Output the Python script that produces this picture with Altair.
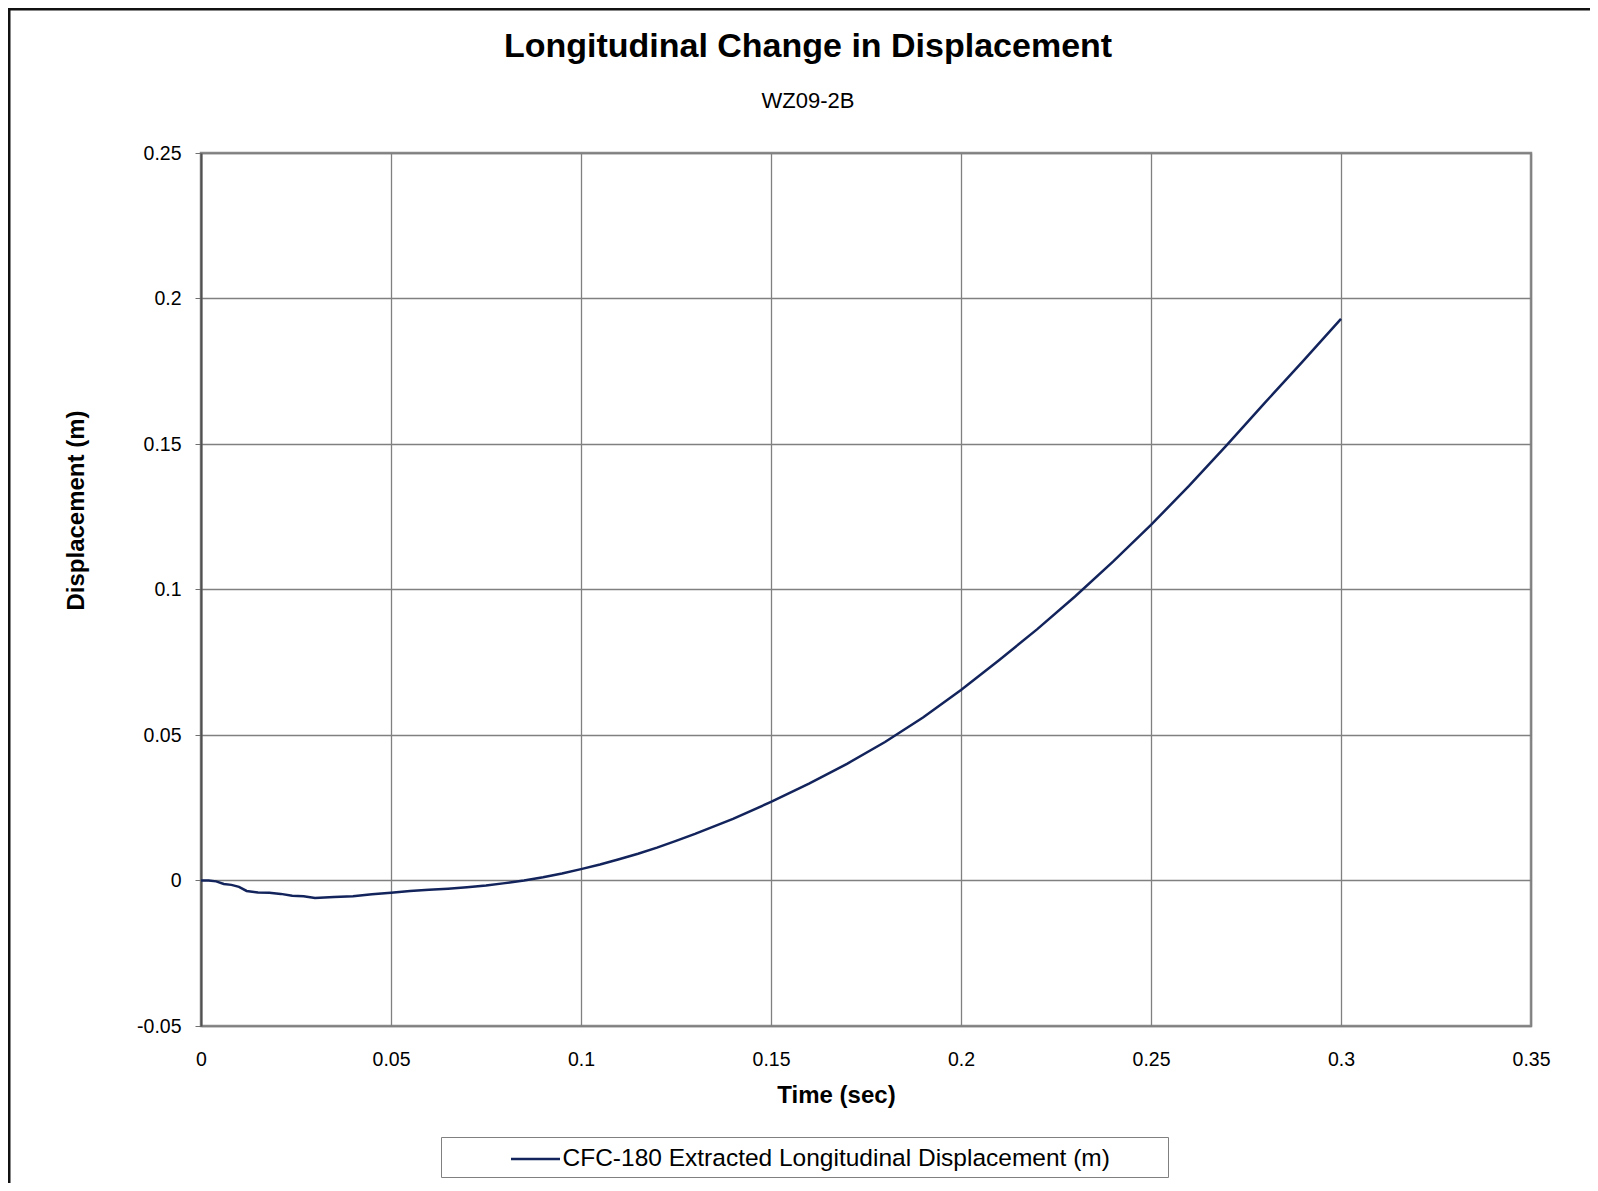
import altair as alt
import pandas as pd

# ---- data ----
time_s = [0.000, 0.002, 0.004, 0.006, 0.008, 0.010, 0.012, 0.015, 0.018, 0.021,
          0.024, 0.027, 0.030, 0.035, 0.040, 0.045, 0.050, 0.055, 0.060, 0.065,
          0.070, 0.075, 0.080, 0.085, 0.090, 0.095, 0.100, 0.105, 0.110, 0.115,
          0.120, 0.125, 0.130, 0.140, 0.150, 0.160, 0.170, 0.180, 0.190, 0.200,
          0.210, 0.220, 0.230, 0.240, 0.250, 0.260, 0.270, 0.280, 0.290, 0.300]
displacement = [0.0000, 0.0000, -0.0003, -0.0012, -0.0015, -0.0022, -0.0036, -0.0041, -0.0042, -0.0046,
                -0.0052, -0.0054, -0.0060, -0.0057, -0.0054, -0.0047, -0.0042, -0.0036, -0.0032, -0.0028,
                -0.0023, -0.0017, -0.0009, 0.0000, 0.0011, 0.0024, 0.0039, 0.0055, 0.0073, 0.0092,
                0.0113, 0.0136, 0.0160, 0.0212, 0.0270, 0.0333, 0.0401, 0.0476, 0.0560, 0.0655,
                0.0757, 0.0863, 0.0976, 0.1096, 0.1222, 0.1356, 0.1497, 0.1642, 0.1785, 0.1930]
series_name = "CFC-180 Extracted Longitudinal Displacement (m)"
x_ticks = [0, 0.05, 0.1, 0.15, 0.2, 0.25, 0.3, 0.35]
y_ticks = [-0.05, 0, 0.05, 0.1, 0.15, 0.2, 0.25]

df = pd.DataFrame({"t": time_s, "d": displacement, "series": series_name})

FONT = "Liberation Sans"
NAVY = "#13245c"

line = alt.Chart(df).mark_line(strokeWidth=2.5, color=NAVY).encode(
    x=alt.X("t:Q", scale=alt.Scale(domain=[0, 0.35], nice=False, zero=False),
            axis=alt.Axis(values=x_ticks, title="Time (sec)", labelExpr="'' + datum.value",
                          ticks=False, tickSize=0, domain=False, labelPadding=24,
                          titlePadding=15, titleX=635, labelFlush=False)),
    y=alt.Y("d:Q", scale=alt.Scale(domain=[-0.05, 0.25], nice=False, zero=False),
            axis=alt.Axis(values=y_ticks, title="Displacement (m)", labelExpr="'' + datum.value",
                          tickSize=6, labelPadding=14, titlePadding=48, titleY=357,
                          domainColor="#505050", domainWidth=2, tickColor="#707070")),
    color=alt.Color("series:N",
                    scale=alt.Scale(range=[NAVY]),
                    legend=alt.Legend(title="\u00a0", titleOrient="right", titlePadding=52,
                                      titleFontSize=24, titleFont=FONT,
                                      orient="none", legendX=240, legendY=984,
                                      symbolType="M-1.75,0H1.75", symbolSize=784,
                                      symbolStrokeWidth=2.5, symbolFillColor="transparent",
                                      symbolOffset=72.5, labelOffset=11.5,
                                      labelFontSize=24.5, labelFont=FONT, labelColor="#000000",
                                      labelLimit=0, padding=6.5, strokeColor="#808080",
                                      fillColor="#ffffff")),
)

frame = alt.Data(values=[{}])
left_border = alt.Chart(frame).mark_rule(color="#111111", strokeWidth=3).encode(
    x=alt.value(-192), y=alt.value(-144), y2=alt.value(1030))
top_border = alt.Chart(frame).mark_rule(color="#111111", strokeWidth=3).encode(
    x=alt.value(-193), x2=alt.value(1400), y=alt.value(-144))

chart = alt.layer(line, left_border, top_border).properties(
    width=1330, height=873,
    padding={"left": 193, "top": 145, "right": 59, "bottom": 157},
    autosize=alt.AutoSizeParams(type="none"),
    title=alt.Title(text="Longitudinal Change in Displacement", subtitle="WZ09-2B",
                    font=FONT, fontSize=34, fontWeight="bold", color="#000000",
                    subtitleFont=FONT, subtitleFontSize=22, subtitleColor="#000000",
                    subtitlePadding=27, anchor="middle", frame="group", dx=-58,
                    offset=-104.5),
).configure_view(stroke="#8c8c8c", strokeWidth=2.5).configure_axis(
    labelFont=FONT, labelFontSize=19.5, labelColor="#000000",
    titleFont=FONT, titleFontSize=24, titleFontWeight="bold", titleColor="#000000",
    gridColor="#808080", gridWidth=1.3, gridOpacity=1,
)

chart.save("out.html", embed_options={"renderer": "svg", "actions": False})
